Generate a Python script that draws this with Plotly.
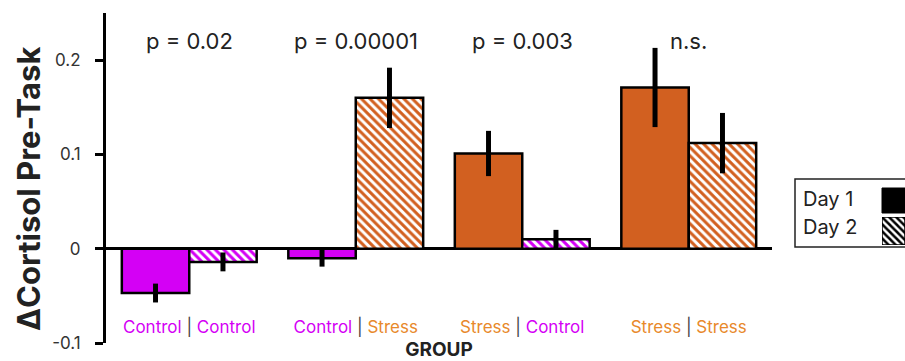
import plotly.graph_objects as go

# ---- data ----
day1_condition = ["Control", "Control", "Stress", "Stress"]
day2_condition = ["Control", "Stress", "Control", "Stress"]
groups = [f"{a} | {b}" for a, b in zip(day1_condition, day2_condition)]

day1_values = [-0.047, -0.010, 0.101, 0.171]
day1_errors = [0.010, 0.009, 0.024, 0.042]
day2_values = [-0.014, 0.160, 0.010, 0.112]
day2_errors = [0.010, 0.032, 0.010, 0.032]

p_values = ["p = 0.02", "p = 0.00001", "p = 0.003", "n.s."]
y_ticks = [-0.1, 0, 0.1, 0.2]
y_tick_labels = ["-0.1", "0", "0.1", "0.2"]

# ---- styles ----
bar_color = {"Control": "#D400F5", "Stress": "#D26020"}
label_color = {"Control": "#D400F5", "Stress": "#E8892B"}
FONT = "Inter"

tick_text = [
    f"<span style='color:{label_color[a]}'>{a}</span>"
    f"<span style='color:#444'> | </span>"
    f"<span style='color:{label_color[b]}'>{b}</span>"
    for a, b in zip(day1_condition, day2_condition)
]

fig = go.Figure()
fig.add_trace(go.Bar(
    x=groups, y=day1_values, name="Day 1",
    marker=dict(color=[bar_color[c] for c in day1_condition],
                line=dict(color="black", width=2.5)),
    error_y=dict(type="data", array=day1_errors, color="black", thickness=5, width=0),
    showlegend=False,
))
fig.add_trace(go.Bar(
    x=groups, y=day2_values, name="Day 2",
    marker=dict(color="white",
                pattern=dict(shape="\\", fgcolor=[bar_color[c] for c in day2_condition],
                             bgcolor="white", size=6, solidity=0.5, fgopacity=1,
                             fillmode="overlay"),
                line=dict(color="black", width=2.5)),
    error_y=dict(type="data", array=day2_errors, color="black", thickness=5, width=0),
    showlegend=False,
))

# legend hatched swatch (drawn on small auxiliary axes)
fig.add_trace(go.Bar(
    x=[0], y=[1], width=[1], xaxis="x2", yaxis="y2", showlegend=False, hoverinfo="skip",
    marker=dict(color="white",
                pattern=dict(shape="\\", fgcolor="black", bgcolor="white", size=5,
                             solidity=0.5, fgopacity=1, fillmode="overlay"),
                line=dict(color="black", width=1.5)),
))

# p-value annotations
for g, p in zip(groups, p_values):
    fig.add_annotation(x=g, y=0.22, xref="x", yref="y", text=p, showarrow=False,
                       font=dict(family=FONT, size=22, color="#222"))

# y title as annotation
fig.add_annotation(x=(28 - 106) / 799, y=(343 - 189) / 330, xref="paper", yref="paper",
                   xanchor="center", yanchor="middle",
                   text="<b>ΔCortisol Pre-Task</b>", textangle=-90, showarrow=False,
                   font=dict(family=FONT, size=31, color="#222"))

# custom legend
fig.add_shape(type="rect", xref="paper", yref="paper", x0=(795 - 106) / 799, x1=1.05,
              y0=(343 - 247) / 330, y1=(343 - 179) / 330,
              line=dict(color="#222", width=1.5), fillcolor="white", layer="below")
fig.add_shape(type="rect", xref="paper", yref="paper", x0=(882 - 106) / 799, x1=1.02,
              y0=(343 - 213) / 330, y1=(343 - 188) / 330,
              line=dict(color="black", width=1), fillcolor="black")
fig.add_annotation(x=(801 - 106) / 799, y=(343 - 199) / 330, xref="paper", yref="paper",
                   text="Day 1", xanchor="left", showarrow=False,
                   font=dict(family=FONT, size=20, color="#222"))
fig.add_annotation(x=(801 - 106) / 799, y=(343 - 227) / 330, xref="paper", yref="paper",
                   text="Day 2", xanchor="left", showarrow=False,
                   font=dict(family=FONT, size=20, color="#222"))

fig.update_layout(
    width=905, height=361,
    margin=dict(l=106, r=0, t=13, b=18),
    paper_bgcolor="white", plot_bgcolor="white",
    barmode="group", bargap=0.19, bargroupgap=0,
    font=dict(family=FONT),
    xaxis=dict(domain=[0, 666 / 799], range=[-0.5, 3.5], anchor="free", position=0.085,
               automargin=False,
               showline=False, ticks="", tickvals=groups, ticktext=tick_text,
               tickfont=dict(family=FONT, size=17), showgrid=False, zeroline=False,
               title=dict(text="<b>GROUP</b>", font=dict(family=FONT, size=19, color="#222"),
                          standoff=18)),
    yaxis=dict(range=[-0.1, 0.25], showline=True, linecolor="black", linewidth=3,
               automargin=False,
               ticks="outside", ticklen=8, tickwidth=3, tickcolor="black",
               tickvals=y_ticks, ticktext=y_tick_labels, ticklabelstandoff=11,
               tickfont=dict(family=FONT, size=17, color="#333"),
               showgrid=False, zeroline=True, zerolinecolor="black", zerolinewidth=3),
    xaxis2=dict(domain=[(882 - 106) / 799, 1.0], range=[-0.5, 0.5], visible=False,
                anchor="y2"),
    yaxis2=dict(domain=[(343 - 245) / 330, (343 - 217) / 330], range=[0, 1], visible=False,
                anchor="x2"),
)

fig.write_html("out.html", config={"displayModeBar": False},
               post_script="document.body.style.margin='0';")
